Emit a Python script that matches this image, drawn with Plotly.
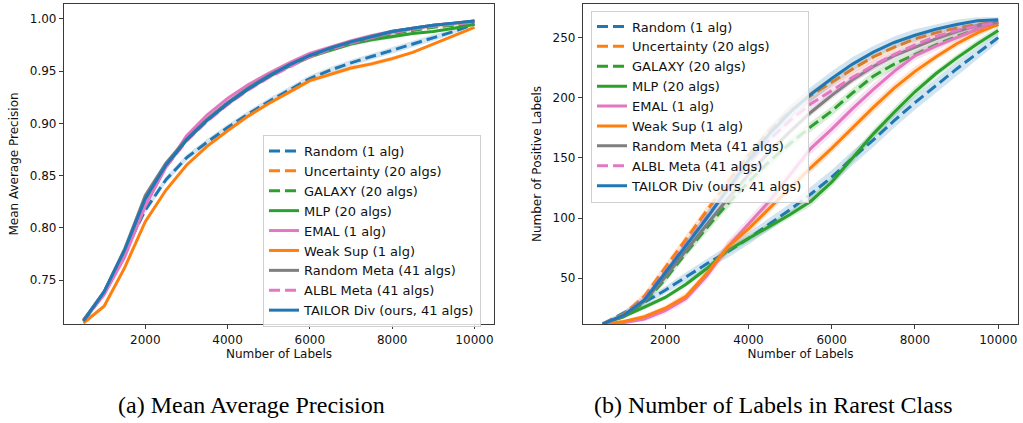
import plotly.graph_objects as go

n_labels = [500, 1000, 1500, 2000, 2500, 3000, 3500, 4000, 4500, 5000,
            5500, 6000, 6500, 7000, 7500, 8000, 8500, 9000, 9500, 10000]

x_tick_vals = [2000, 4000, 6000, 8000, 10000]
x_tick_text = ["2000", "4000", "6000", "8000", "10000"]
map_tick_vals = [0.75, 0.80, 0.85, 0.90, 0.95, 1.00]
pos_tick_vals = [50, 100, 150, 200, 250]

series_names = ["Random (1 alg)", "Uncertainty (20 algs)", "GALAXY (20 algs)", "MLP (20 algs)",
                "EMAL (1 alg)", "Weak Sup (1 alg)", "Random Meta (41 algs)", "ALBL Meta (41 algs)",
                "TAILOR Div (ours, 41 algs)"]
series_colors = ["#1f77b4", "#ff7f0e", "#2ca02c", "#2ca02c", "#e377c2", "#ff7f0e", "#7f7f7f", "#e377c2", "#1f77b4"]
series_fills = ["rgba(31,119,180,0.2)", "rgba(255,127,14,0.2)", "rgba(44,160,44,0.2)", "rgba(44,160,44,0.2)",
                "rgba(227,119,194,0.2)", "rgba(255,127,14,0.2)", "rgba(127,127,127,0.2)", "rgba(227,119,194,0.2)",
                "rgba(31,119,180,0.2)"]
series_dashed = [True, True, True, False, False, False, False, True, False]

# (a) Mean Average Precision
map_random = [0.711, 0.737, 0.777, 0.817, 0.846, 0.867, 0.882, 0.896, 0.909, 0.921,
              0.932, 0.943, 0.951, 0.958, 0.964, 0.970, 0.976, 0.982, 0.988, 0.995]
map_uncertainty = [0.711, 0.738, 0.778, 0.827, 0.859, 0.884, 0.903, 0.919, 0.933, 0.945,
                   0.955, 0.964, 0.971, 0.977, 0.982, 0.987, 0.990, 0.993, 0.995, 0.997]
map_galaxy = [0.711, 0.738, 0.778, 0.827, 0.859, 0.884, 0.903, 0.919, 0.933, 0.945,
              0.955, 0.964, 0.971, 0.977, 0.982, 0.986, 0.989, 0.992, 0.994, 0.996]
map_mlp = [0.711, 0.738, 0.778, 0.827, 0.859, 0.884, 0.903, 0.919, 0.933, 0.945,
           0.955, 0.964, 0.970, 0.976, 0.980, 0.983, 0.986, 0.988, 0.991, 0.995]
map_emal = [0.712, 0.736, 0.772, 0.821, 0.858, 0.888, 0.908, 0.924, 0.937, 0.948,
            0.958, 0.967, 0.973, 0.979, 0.984, 0.988, 0.991, 0.994, 0.996, 0.998]
map_weaksup = [0.709, 0.725, 0.762, 0.806, 0.836, 0.860, 0.878, 0.893, 0.907, 0.919,
               0.930, 0.941, 0.947, 0.953, 0.957, 0.962, 0.968, 0.976, 0.984, 0.992]
map_randmeta = [0.712, 0.739, 0.780, 0.831, 0.862, 0.885, 0.904, 0.920, 0.934, 0.946,
                0.956, 0.965, 0.972, 0.978, 0.983, 0.988, 0.991, 0.994, 0.996, 0.998]
map_albl = [0.711, 0.738, 0.778, 0.826, 0.858, 0.883, 0.902, 0.918, 0.932, 0.944,
            0.954, 0.964, 0.971, 0.977, 0.982, 0.987, 0.990, 0.993, 0.995, 0.997]
map_tailor = [0.711, 0.739, 0.779, 0.828, 0.860, 0.884, 0.903, 0.919, 0.933, 0.945,
              0.956, 0.965, 0.972, 0.978, 0.983, 0.988, 0.991, 0.994, 0.996, 0.998]

map_err_random = [0.003, 0.003, 0.003, 0.003, 0.003, 0.003, 0.003, 0.003, 0.003, 0.003,
                  0.003, 0.003, 0.003, 0.003, 0.003, 0.003, 0.003, 0.003, 0.002, 0.002]
map_err_small = [0.002, 0.002, 0.002, 0.002, 0.002, 0.002, 0.002, 0.002, 0.002, 0.002,
                 0.002, 0.002, 0.002, 0.002, 0.002, 0.002, 0.001, 0.001, 0.001, 0.001]

# (b) Number of labels in rarest class
pos_random = [12, 21, 30, 40, 51, 62, 72, 83, 95, 107, 120, 134, 150, 165, 181, 196, 210, 224, 237, 250]
pos_uncertainty = [12, 20, 35, 59, 83, 106, 130, 152, 172, 189, 202, 213, 224, 234, 242, 249, 254, 258, 261, 263]
pos_galaxy = [12, 18, 30, 49, 71, 92, 112, 130, 147, 162, 176, 189, 204, 218, 228, 236, 244, 251, 257, 261]
pos_mlp = [12, 18, 26, 34, 45, 58, 73, 83, 93, 103, 114, 130, 150, 170, 188, 205, 220, 233, 245, 256]
pos_emal = [12, 13, 16, 23, 33, 52, 76, 95, 114, 136, 158, 174, 191, 207, 222, 235, 243, 250, 257, 263]
pos_weaksup = [12, 14, 18, 25, 35, 54, 76, 91, 108, 125, 142, 158, 175, 192, 208, 222, 234, 245, 254, 261]
pos_randmeta = [12, 19, 31, 51, 73, 95, 116, 136, 155, 172, 188, 202, 215, 226, 235, 242, 249, 255, 260, 263]
pos_albl = [12, 19, 33, 55, 78, 101, 124, 146, 165, 181, 195, 206, 217, 227, 236, 244, 251, 256, 260, 263]
pos_tailor = [12, 19, 32, 54, 77, 100, 124, 148, 170, 188, 203, 216, 228, 238, 246, 252, 257, 261, 264, 265]

pos_err_random = [1, 2, 3, 3, 4, 4, 5, 5, 5, 5, 6, 6, 6, 6, 6, 6, 6, 6, 5, 4]
pos_err_uncertainty = [1, 2, 3, 3, 4, 4, 4, 4, 4, 4, 4, 4, 4, 4, 3, 3, 3, 3, 2, 2]
pos_err_galaxy = [1, 2, 2, 3, 3, 4, 4, 4, 4, 4, 4, 4, 4, 4, 4, 3, 3, 3, 2, 2]
pos_err_mlp = [1, 1, 2, 2, 2, 3, 3, 3, 3, 3, 4, 4, 4, 4, 4, 4, 3, 3, 3, 3]
pos_err_emal = [1, 1, 2, 3, 3, 4, 5, 5, 5, 5, 5, 5, 5, 5, 4, 4, 4, 3, 3, 2]
pos_err_weaksup = [1, 1, 2, 2, 3, 3, 4, 4, 4, 4, 4, 4, 4, 4, 4, 4, 3, 3, 3, 2]
pos_err_randmeta = [1, 1, 2, 3, 3, 3, 3, 3, 3, 3, 3, 3, 3, 3, 3, 3, 2, 2, 2, 2]
pos_err_albl = [1, 2, 3, 3, 4, 4, 4, 4, 4, 4, 4, 4, 4, 4, 3, 3, 3, 3, 2, 2]
pos_err_tailor = [1, 2, 3, 3, 4, 5, 5, 6, 6, 6, 6, 6, 6, 5, 5, 5, 4, 4, 3, 2]

map_series = [map_random, map_uncertainty, map_galaxy, map_mlp, map_emal, map_weaksup,
              map_randmeta, map_albl, map_tailor]
map_errs = [map_err_random, map_err_small, map_err_small, map_err_small, map_err_small,
            map_err_small, map_err_small, map_err_small, map_err_small]
pos_series = [pos_random, pos_uncertainty, pos_galaxy, pos_mlp, pos_emal, pos_weaksup,
              pos_randmeta, pos_albl, pos_tailor]
pos_errs = [pos_err_random, pos_err_uncertainty, pos_err_galaxy, pos_err_mlp, pos_err_emal,
            pos_err_weaksup, pos_err_randmeta, pos_err_albl, pos_err_tailor]

FONT = "DejaVu Sans"
fig = go.Figure()


def add_panel(series_list, err_list, xa, ya, legend_name):
    for i, (vals, errs) in enumerate(zip(series_list, err_list)):
        upper = [v + e for v, e in zip(vals, errs)]
        lower = [v - e for v, e in zip(vals, errs)]
        fig.add_trace(go.Scatter(x=n_labels, y=upper, mode="lines", line=dict(width=0),
                                 showlegend=False, hoverinfo="skip", xaxis=xa, yaxis=ya))
        fig.add_trace(go.Scatter(x=n_labels, y=lower, mode="lines", line=dict(width=0),
                                 fill="tonexty", fillcolor=series_fills[i],
                                 showlegend=False, hoverinfo="skip", xaxis=xa, yaxis=ya))
        fig.add_trace(go.Scatter(
            x=n_labels, y=vals, mode="lines", name=series_names[i],
            line=dict(color=series_colors[i], width=3,
                      dash="11px,5px" if series_dashed[i] else "solid"),
            xaxis=xa, yaxis=ya, legend=legend_name))


add_panel(map_series, map_errs, "x", "y", "legend")
add_panel(pos_series, pos_errs, "x2", "y2", "legend2")

W, H = 1023, 423
axis_common = dict(showline=True, mirror=True, linecolor="#3a3a3a", linewidth=1.2,
                   ticks="outside", ticklen=4, tickwidth=1, tickcolor="#3a3a3a",
                   showgrid=False, zeroline=False,
                   tickfont=dict(family=FONT, size=12, color="#111111"),
                   title_font=dict(family=FONT, size=12, color="#111111"))

y_top = 1 - 4 / H
y_bot = 1 - 324 / H

legend_common = dict(xanchor="left", yanchor="top", traceorder="normal",
                     bgcolor="rgba(255,255,255,0.8)", bordercolor="#d0d0d0", borderwidth=1,
                     font=dict(family=FONT, size=13, color="#111111"))

fig.update_layout(
    width=W, height=H, autosize=False,
    margin=dict(l=0, r=0, t=0, b=0),
    paper_bgcolor="white", plot_bgcolor="white",
    xaxis=dict(domain=[64 / W, 494 / W], range=[25, 10475], anchor="y",
               tickvals=x_tick_vals, ticktext=x_tick_text,
               title=dict(text="Number of Labels", standoff=4), **axis_common),
    yaxis=dict(domain=[y_bot, y_top], range=[0.708, 1.0143], anchor="x",
               tickvals=map_tick_vals, tickformat=".2f",
               title=dict(text="Mean Average Precision", standoff=8), **axis_common),
    xaxis2=dict(domain=[583 / W, 1018 / W], range=[25, 10475], anchor="y2",
                tickvals=x_tick_vals, ticktext=x_tick_text,
                title=dict(text="Number of Labels", standoff=4), **axis_common),
    yaxis2=dict(domain=[y_bot, y_top], range=[11.9, 278], anchor="x2",
                tickvals=pos_tick_vals,
                title=dict(text="Number of Positive Labels", standoff=8), **axis_common),
    legend=dict(x=263 / W, y=1 - 135 / H, **legend_common),
    legend2=dict(x=591 / W, y=1 - 10.5 / H, **legend_common),
    annotations=[
        dict(text="(a) Mean Average Precision", x=251 / W, y=1 - 405 / H, xref="paper", yref="paper",
             xanchor="center", yanchor="middle", showarrow=False,
             font=dict(family="Liberation Serif", size=24, color="black")),
        dict(text="(b) Number of Labels in Rarest Class", x=773 / W, y=1 - 405 / H, xref="paper",
             yref="paper", xanchor="center", yanchor="middle", showarrow=False,
             font=dict(family="Liberation Serif", size=24, color="black")),
    ],
)

fig.write_html("out.html")
